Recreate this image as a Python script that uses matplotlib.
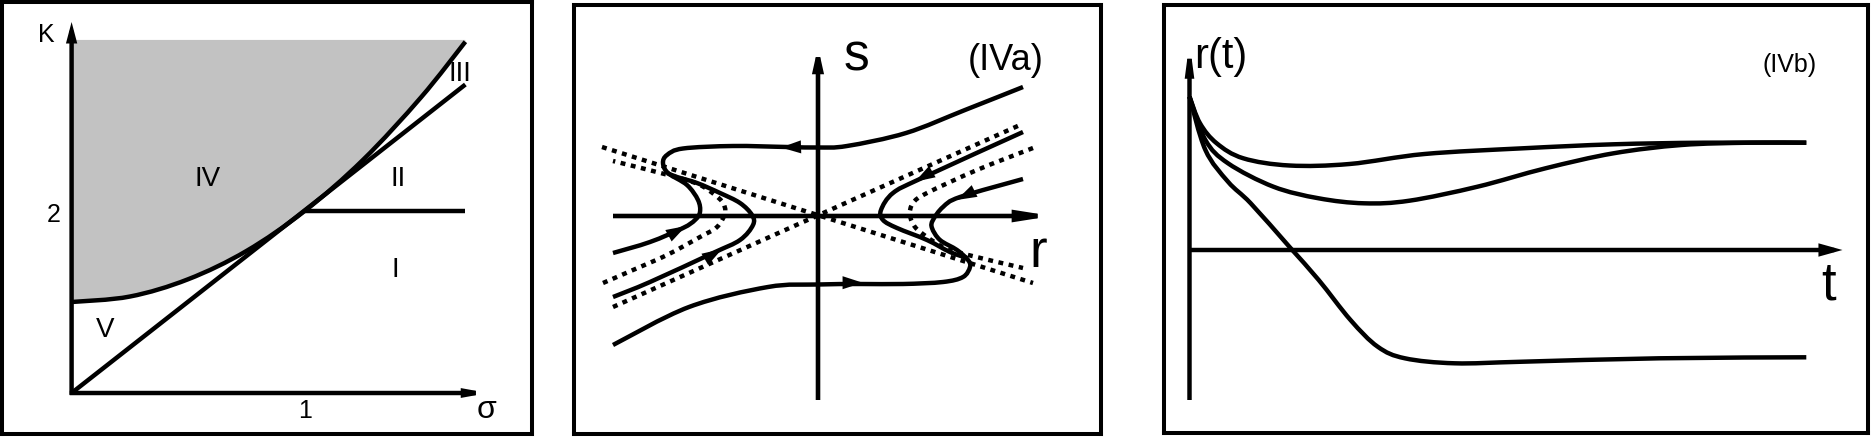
import numpy as np
import matplotlib
matplotlib.use("Agg")
import matplotlib.pyplot as plt
from matplotlib.path import Path
from matplotlib.patches import PathPatch

plt.rcParams['font.family'] = ['Liberation Sans', 'DejaVu Sans']

W, H, DPI = 1871, 437, 100

# ---------------- Panel 1: (sigma, K) stability diagram ----------------
p1_parab_sigma = [0.0, 0.25, 0.5, 0.75, 1.0, 1.25, 1.5, 1.69]
p1_parab_K = [1.0, 1.06, 1.25, 1.56, 2.0, 2.56, 3.25, 3.86]
p1_diag_sigma = [0.0, 1.69]
p1_diag_K = [0.0, 3.39]
p1_hline_sigma = [1.0, 1.69]
p1_hline_K = [2.0, 2.0]
p1_shade_top = 3.88
p1_region_labels = ['IV', 'II', 'III', 'I', 'V']
p1_region_sigma = [0.584, 1.403, 1.668, 1.389, 0.143]
p1_region_K = [2.27, 2.27, 3.43, 1.28, 0.62]
p1_xtick_vals = [1.0]
p1_xtick_labels = ['1']
p1_ytick_vals = [2.0]
p1_ytick_labels = ['2']

# ---------------- Panel 2: (r, s) phase portrait (IVa) ----------------
p2_sep1_r = [-2.16, 2.15]
p2_sep1_s = [0.69, -0.67]
p2_sep2_r = [-2.05, 2.02]
p2_sep2_s = [-0.91, 0.91]
p2_dotL_r = [-2.15, -1.85, -1.51, -1.18, -1.01, -0.93, -0.95, -1.03, -1.18, -1.42, -2.05]
p2_dotL_s = [-0.67, -0.54, -0.39, -0.21, -0.11, 0.03, 0.13, 0.21, 0.31, 0.39, 0.55]
p2_dotR_r = [2.15, 1.59, 1.09, 0.95, 0.92, 0.97, 1.09, 1.25, 1.42, 2.05]
p2_dotR_s = [0.68, 0.46, 0.23, 0.13, 0.01, -0.11, -0.21, -0.31, -0.37, -0.52]
p2_S1_r = [2.05, 1.47, 0.88, 0.29, 0.0, -0.31, -0.85, -1.35, -1.51, -1.55, -1.50,
           -1.31, -1.20, -1.18, -1.23, -1.35, -1.68, -2.05]
p2_S1_s = [1.29, 1.06, 0.83, 0.70, 0.685, 0.69, 0.70, 0.675, 0.61, 0.53, 0.43,
           0.31, 0.16, 0.04, -0.04, -0.12, -0.26, -0.37]
p2_S2_r = [-2.05, -1.68, -1.05, -0.78, -0.65, -0.66, -0.78, -0.98, -1.21, -1.41, -1.51]
p2_S2_s = [-0.81, -0.66, -0.37, -0.24, -0.09, 0.01, 0.13, 0.23, 0.33, 0.39, 0.43]
p2_S3_r = [2.05, 1.42, 1.25, 1.15, 1.14, 1.22, 1.39, 1.50, 1.52, 1.45, 1.25,
           0.85, 0.42, 0.0, -0.50, -1.29, -2.05]
p2_S3_s = [0.37, 0.19, 0.09, -0.04, -0.12, -0.24, -0.34, -0.44, -0.51, -0.61, -0.66,
           -0.68, -0.68, -0.685, -0.71, -0.91, -1.29]
p2_S4_r = [2.05, 1.04, 0.75, 0.63, 0.65, 0.79, 1.09, 1.32, 1.49]
p2_S4_s = [0.84, 0.38, 0.23, 0.06, -0.04, -0.12, -0.24, -0.36, -0.42]
# flow arrows: tip and tail points on the trajectories
p2_arrow_tip_r = [-0.37, -1.32, -0.96, 0.97, 1.387, 0.446]
p2_arrow_tip_s = [0.685, -0.10, -0.33, 0.343, 0.16, -0.667]
p2_arrow_tail_r = [-0.21, -1.50, -1.11, 1.12, 1.52, 0.288]
p2_arrow_tail_s = [0.69, -0.20, -0.42, 0.43, 0.227, -0.667]

# ---------------- Panel 3: r(t) time courses (IVb) ----------------
p3_A_t = [0, 0.105, 0.272, 0.538, 1.0, 1.6, 2.35, 3.333, 4.24, 5.147, 6.168]
p3_A_r = [1.533, 1.267, 1.067, 0.917, 0.845, 0.86, 0.96, 1.017, 1.057, 1.073, 1.073]
p3_B_t = [0, 0.159, 0.385, 0.839, 1.292, 1.745, 2.199, 2.88, 3.56, 4.24, 4.92, 5.601, 6.168]
p3_B_r = [1.533, 1.10, 0.867, 0.633, 0.517, 0.467, 0.493, 0.633, 0.817, 0.967, 1.05, 1.073, 1.073]
p3_C_t = [0, 0.159, 0.385, 0.612, 0.998, 1.292, 1.61, 1.882, 2.154, 2.653, 3.333, 4.694, 6.168]
p3_C_r = [1.533, 1.00, 0.683, 0.467, 0.033, -0.30, -0.70, -0.967, -1.083, -1.133, -1.117, -1.083, -1.073]

LW = 3.2


def smooth_path(xs, ys):
    P = np.column_stack([xs, ys]).astype(float)
    n = len(P)
    if n == 2:
        return Path(P, [Path.MOVETO, Path.LINETO])
    ext = np.vstack([P[0], P, P[-1]])
    verts = [P[0]]
    codes = [Path.MOVETO]
    for i in range(n - 1):
        p0, p1, p2, p3 = ext[i], ext[i + 1], ext[i + 2], ext[i + 3]
        c1 = p1 + (p2 - p0) / 6.0
        c2 = p2 - (p3 - p1) / 6.0
        verts += [c1, c2, p2]
        codes += [Path.CURVE4] * 3
    return Path(np.array(verts), codes)


def draw_curve(ax, xs, ys, lw=LW, ls='-'):
    patch = PathPatch(smooth_path(xs, ys), fill=False, lw=lw, edgecolor='black',
                      linestyle=ls, capstyle='butt', joinstyle='round')
    ax.add_patch(patch)


def axis_arrow(ax, start, tip, L_px, W_px, lw=LW):
    lw_px = lw / 0.72
    hl = max(L_px - lw_px, 1.0) * 0.72
    hw = max(W_px / 2 - lw_px / 2, 0.5) * 0.72
    ax.annotate('', xy=tip, xytext=start,
                arrowprops=dict(arrowstyle=f'-|>,head_length={hl},head_width={hw}',
                                color='black', lw=lw, shrinkA=0, shrinkB=0,
                                mutation_scale=1, joinstyle='miter', capstyle='butt'))


def flow_head(ax, tip, tail, L_px=20, W_px=13):
    ax.annotate('', xy=tip, xytext=tail,
                arrowprops=dict(arrowstyle=f'-|>,head_length={L_px*0.72},head_width={W_px*0.36}',
                                color='black', lw=0.01, shrinkA=0, shrinkB=0,
                                mutation_scale=1))


def add_panel(x0, y0, x1, y1, xlim, ylim):
    ax = fig.add_axes([x0 / W, 1 - y1 / H, (x1 - x0) / W, (y1 - y0) / H])
    ax.set_xlim(*xlim)
    ax.set_ylim(*ylim)
    ax.set_xticks([])
    ax.set_yticks([])
    for sp in ax.spines.values():
        sp.set_linewidth(2.9)
        sp.set_color('black')
    return ax


fig = plt.figure(figsize=(W / DPI, H / DPI), dpi=DPI)

# ---------- Panel 1 ----------
ax1 = add_panel(2, 2, 532, 434, (-0.2987, 1.976), (-0.4505, 4.2967))
pp = smooth_path(p1_parab_sigma, p1_parab_K)
fill_verts = np.vstack([pp.vertices, [[p1_parab_sigma[-1], p1_shade_top],
                                      [p1_parab_sigma[0], p1_shade_top],
                                      [p1_parab_sigma[0], p1_parab_K[0]]]])
fill_codes = list(pp.codes) + [Path.LINETO, Path.LINETO, Path.CLOSEPOLY]
ax1.add_patch(PathPatch(Path(fill_verts, fill_codes), facecolor='#c2c2c2',
                        edgecolor='none', zorder=1))
draw_curve(ax1, p1_parab_sigma, p1_parab_K)
ax1.plot(p1_diag_sigma, p1_diag_K, color='black', lw=LW, solid_capstyle='butt')
ax1.plot(p1_hline_sigma, p1_hline_K, color='black', lw=LW, solid_capstyle='butt')
axis_arrow(ax1, (0, -0.02), (0, 4.077), 15, 10)
axis_arrow(ax1, (-0.008, 0), (1.787, 0), 17, 9)
for lab, x, y in zip(p1_region_labels, p1_region_sigma, p1_region_K):
    ax1.text(x, y, lab, fontsize=20, ha='center', va='baseline')
for v, lab in zip(p1_xtick_vals, p1_xtick_labels):
    ax1.text(v, -0.28, lab, fontsize=18, ha='center', va='baseline')
for v, lab in zip(p1_ytick_vals, p1_ytick_labels):
    ax1.text(-0.075, v - 0.12, lab, fontsize=18, ha='center', va='baseline')
ax1.text(-0.107, 3.86, 'K', fontsize=18, ha='center', va='baseline')
ax1.text(1.78, -0.28, 'σ', fontsize=23, ha='center', va='baseline')

# ---------- Panel 2 ----------
ax2 = add_panel(574, 5, 1101, 434, (-2.44, 2.83), (-2.18, 2.11))
dots = (0, (1.1, 1.25))
ax2.plot(p2_sep1_r, p2_sep1_s, color='black', lw=LW, linestyle=dots, dash_capstyle='butt')
ax2.plot(p2_sep2_r, p2_sep2_s, color='black', lw=LW, linestyle=dots, dash_capstyle='butt')
draw_curve(ax2, p2_dotL_r, p2_dotL_s, ls=dots)
draw_curve(ax2, p2_dotR_r, p2_dotR_s, ls=dots)
draw_curve(ax2, p2_S1_r, p2_S1_s)
draw_curve(ax2, p2_S2_r, p2_S2_s)
draw_curve(ax2, p2_S3_r, p2_S3_s)
draw_curve(ax2, p2_S4_r, p2_S4_s)
axis_arrow(ax2, (0, -1.84), (0, 1.69), 19, 11, lw=3.3)
axis_arrow(ax2, (-2.05, 0), (2.34, 0), 28, 12, lw=3.3)
for tr, ts, ur, us in zip(p2_arrow_tip_r, p2_arrow_tip_s, p2_arrow_tail_r, p2_arrow_tail_s):
    flow_head(ax2, (tr, ts), (ur, us))
ax2.text(0.38, 1.46, 's', fontsize=37, ha='center', va='baseline')
ax2.text(2.205, -0.51, 'r', fontsize=38, ha='center', va='baseline')
ax2.text(1.88, 1.46, '(IVa)', fontsize=26, ha='center', va='baseline')

# ---------- Panel 3 ----------
ax3 = add_panel(1164, 5, 1868, 433, (-0.255, 6.785), (-1.83, 2.45))
draw_curve(ax3, p3_A_t, p3_A_r)
draw_curve(ax3, p3_B_t, p3_B_r)
draw_curve(ax3, p3_C_t, p3_C_r)
axis_arrow(ax3, (0, -1.5), (0, 2.083), 22, 9)
axis_arrow(ax3, (0, 0), (6.53, 0), 18, 12)
ax3.text(0.31, 1.82, 'r(t)', fontsize=30, ha='center', va='baseline')
ax3.text(6.395, -0.50, 't', fontsize=38, ha='center', va='baseline')
ax3.text(6.0, 1.78, '(IVb)', fontsize=18, ha='center', va='baseline')

fig.savefig('out.png', dpi=DPI)
